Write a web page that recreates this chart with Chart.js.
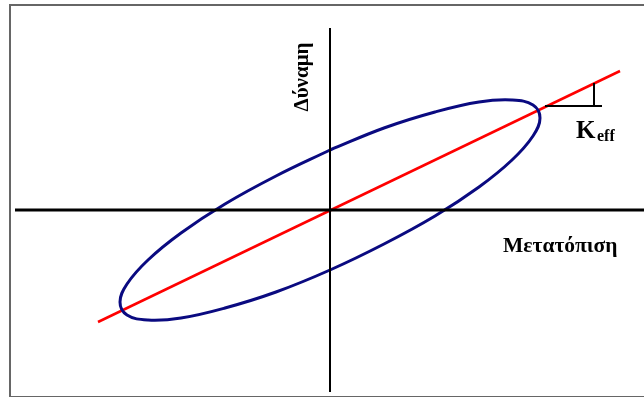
<!DOCTYPE html>
<html>
<head>
<meta charset="utf-8">
<script src="https://cdn.jsdelivr.net/npm/chart.js@4/dist/chart.umd.min.js"></script>
<style>
  body { margin: 0; background: #fff; }
  #wrap { position: relative; width: 644px; height: 397px; overflow: hidden; }
  #frame { position: absolute; left: 9px; top: 4px; width: 660px; height: 390px;
           border: 2px solid #666; border-right: none; }
  #grafico { position: absolute; left: 0; top: 0; }
</style>
</head>
<body>
<div id="wrap">
  <div id="frame"></div>
  <canvas id="grafico" width="644" height="397"></canvas>
</div>
<script>
// βρόχος υστέρησης: μετατόπιση (x) - δύναμη (y)
const loopX = [0.00, -0.54, -1.05, -1.49, -1.82, -2.03, -2.10, -2.03, -1.82, -1.49, -1.05, -0.54,
               0.00, 0.54, 1.05, 1.49, 1.82, 2.03, 2.10, 2.03, 1.82, 1.49, 1.05, 0.54, 0.00];
const loopY = [0.60, 0.34, 0.06, -0.23, -0.50, -0.74, -0.92, -1.05, -1.10, -1.08, -0.98, -0.82,
               -0.60, -0.34, -0.06, 0.23, 0.50, 0.74, 0.92, 1.05, 1.10, 1.08, 0.98, 0.82, 0.60];

// ενεργός δυσκαμψία Keff
const keffX = [-2.32, 2.90];
const keffY = [-1.12, 1.39];

// άξονες
const axisX = [-3.15, 3.20];
const axisY = [1.82, -1.82];

// τρίγωνο κλίσης
const slopeX = [2.15, 2.72, 2.64, 2.64];
const slopeY = [1.04, 1.04, 1.04, 1.27];

const pts = (xs, ys) => xs.map((x, i) => ({ x: x, y: ys[i] }));

const etiketes = {
  id: 'etiketes',
  afterDraw(chart) {
    const c = chart.ctx;
    c.save();
    c.fillStyle = '#000';
    c.textBaseline = 'alphabetic';
    c.font = 'bold 21.5px "Liberation Serif", serif';
    c.fillText('Μετατόπιση', 503, 252);

    c.save();
    c.translate(308, 77);
    c.rotate(-Math.PI / 2);
    c.textAlign = 'center';
    c.font = 'bold 21px "Liberation Serif", serif';
    c.fillText('Δύναμη', 0, 0);
    c.restore();

    c.font = 'bold 25px "Liberation Serif", serif';
    c.fillText('K', 576, 138);
    c.font = 'bold 16px "Liberation Serif", serif';
    c.fillText('eff', 597, 141);
    c.restore();
  }
};

new Chart(document.getElementById('grafico'), {
  type: 'scatter',
  data: {
    datasets: [
      { data: pts(axisX, [0, 0]), showLine: true, borderColor: '#000', borderWidth: 3, pointRadius: 0 },
      { data: pts([0, 0], axisY), showLine: true, borderColor: '#000', borderWidth: 2, pointRadius: 0 },
      { data: pts(slopeX.slice(0, 2), slopeY.slice(0, 2)), showLine: true, borderColor: '#000', borderWidth: 2, pointRadius: 0 },
      { data: pts(slopeX.slice(2), slopeY.slice(2)), showLine: true, borderColor: '#000', borderWidth: 2, pointRadius: 0 },
      { data: pts(loopX, loopY), showLine: true, borderColor: '#0a0a80', borderWidth: 3, pointRadius: 0, tension: 0.4 },
      { data: pts(keffX, keffY), showLine: true, borderColor: '#ff0000', borderWidth: 2.5, pointRadius: 0 }
    ]
  },
  options: {
    responsive: false,
    animation: false,
    layout: { padding: 0 },
    plugins: { legend: { display: false }, tooltip: { enabled: false } },
    scales: {
      x: { type: 'linear', min: -3.30, max: 3.14, display: false },
      y: { type: 'linear', min: -1.87, max: 2.10, display: false }
    }
  },
  plugins: [etiketes]
});
</script>
</body>
</html>
